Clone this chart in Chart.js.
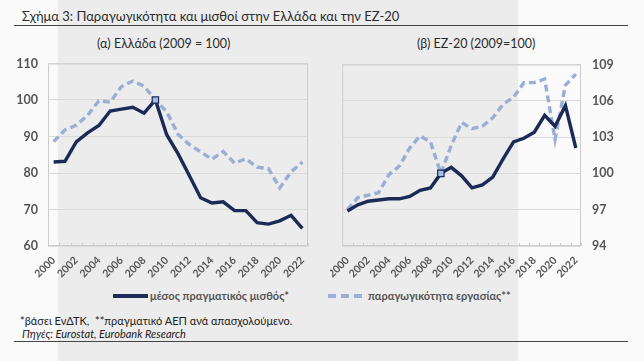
<!DOCTYPE html>
<html>
<head>
<meta charset="utf-8">
<script src="https://cdn.jsdelivr.net/npm/chart.js@4.4.1/dist/chart.umd.min.js"></script>
<style>
  html, body { margin: 0; padding: 0; }
  body { width: 644px; height: 361px; position: relative; background: #fafafa; overflow: hidden; font-family: Lato, "Open Sans", sans-serif; color: #333; }
  .band { position: absolute; left: 58px; top: 0; width: 460px; height: 361px; background: #ececec; }
  .title { position: absolute; left: 22px; top: 8px; font-size: 13px; color: #2b2b2b; }
  .rule { position: absolute; left: 14px; width: 614px; height: 0; border-top: 1px solid #444; }
  .sub { position: absolute; top: 36px; font-size: 12.5px; color: #2b2b2b; }
  canvas { position: absolute; }
  .legend { position: absolute; top: 289px; font-size: 11px; font-weight: bold; color: #555; }
  .swatch { position: absolute; top: 294px; height: 0; }
  .note { position: absolute; left: 20px; font-size: 11px; color: #222; }
</style>
</head>
<body>
<div class="band"></div>
<div class="title">Σχήμα 3: Παραγωγικότητα και μισθοί στην Ελλάδα και την ΕΖ-20</div>
<div class="rule" style="top:25px"></div>
<div class="sub" style="left:97px">(α) Ελλάδα (2009 = 100)</div>
<div class="sub" style="left:417px">(β) ΕΖ-20 (2009=100)</div>
<canvas id="chartGR" width="316" height="236" style="left:0;top:46px"></canvas>
<canvas id="chartEZ" width="314" height="236" style="left:330px;top:46px"></canvas>
<div class="swatch" style="left:113px;width:35px;border-top:4px solid #1b2a56"></div>
<div class="legend" style="left:150px">μέσος πραγματικός μισθός*</div>
<div class="swatch" style="left:328px;width:34px;border-top:4px dashed #9aaed6"></div>
<div class="legend" style="left:368px">παραγωγικότητα εργασίας**</div>
<div class="note" style="top:314px">*βάσει ΕνΔΤΚ,&nbsp; **πραγματικό ΑΕΠ ανά απασχολούμενο.</div>
<div class="note" style="top:327px;left:22px;font-style:italic">Πηγές: Eurostat, Eurobank Research</div>
<div class="rule" style="top:341px"></div>

<script>
const years = ['2000', '2001', '2002', '2003', '2004', '2005', '2006', '2007', '2008', '2009', '2010',
    '2011', '2012', '2013', '2014', '2015', '2016', '2017', '2018', '2019', '2020', '2021', '2022'];

// Ελλάδα
const grWage = [83, 83.2, 88.5, 91, 93, 97, 97.5, 98, 96.4, 100, 90.5, 85.3, 79.3, 73.2, 71.8, 72.1, 69.7, 69.7, 66.4, 66, 66.9, 68.4, 64.8];
const grProd = [88.6, 91.8, 93.1, 95.8, 99.8, 99.4, 103.7, 105.2, 103.8, 100, 96.8, 90.6, 87.8, 85.8, 83.8, 85.9, 82.7, 83.9, 81.6, 81.2, 75.9, 80.3, 83];

// ΕΖ-20
const ezWage = [96.9, 97.4, 97.7, 97.8, 97.9, 97.9, 98.1, 98.6, 98.8, 100, 100.5, 99.8, 98.8, 99.05, 99.7, 101.2, 102.6, 102.9, 103.4, 104.8, 103.9, 105.6, 102.1];
const ezProd = [97, 98, 98.2, 98.4, 99.9, 100.6, 102.1, 103.1, 102.6, 100, 102.3, 104.2, 103.7, 103.9, 104.6, 105.7, 106.3, 107.5, 107.5, 107.8, 102.8, 107.3, 108.2];

const grTicks = [60, 70, 80, 90, 100, 110];
const ezTicks = [94, 97, 100, 103, 106, 109];
const baseYear = '2009';

const NAVY = '#1b2a56';
const LIGHT = '#9aaed6';
const FONT = 'Lato, "Open Sans", sans-serif';

// πλαίσιο γύρω από την περιοχή σχεδίασης + μικρά tick μέσα
const frame = {
    id: 'frame',
    beforeDatasetsDraw(chart) {
        const { ctx, chartArea: a, scales: { x } } = chart;
        ctx.save();
        ctx.strokeStyle = '#cdcdcd';
        ctx.lineWidth = 1;
        ctx.strokeRect(a.left + 0.5, a.top + 0.5, a.width - 1, a.height - 1);
        const step = a.width / years.length;
        ctx.beginPath();
        for (let i = 0; i <= years.length; i++) {
            const px = Math.round(x.getPixelForValue(0) - step / 2 + i * step) + 0.5;
            ctx.moveTo(px, a.bottom);
            ctx.lineTo(px, a.bottom - 3);
        }
        ctx.stroke();
        ctx.restore();
    }
};

function makeChart(id, wage, prod, ticks, side, pad, axisW) {
    const base = years.indexOf(baseYear);
    return new Chart(document.getElementById(id).getContext('2d'), {
        type: 'line',
        data: {
            labels: years,
            datasets: [
                {
                    label: 'μέσος πραγματικός μισθός*',
                    data: wage,
                    borderColor: NAVY,
                    borderWidth: 3.4,
                    pointStyle: 'rect',
                    pointRadius: (c) => (c.dataIndex === base ? 4.5 : 0),
                    pointBackgroundColor: '#a4bbe6',
                    pointBorderColor: NAVY,
                    pointBorderWidth: 1.2,
                    tension: 0
                },
                {
                    label: 'παραγωγικότητα εργασίας**',
                    data: prod,
                    borderColor: LIGHT,
                    borderWidth: 3.4,
                    borderDash: [7, 4],
                    pointRadius: 0,
                    tension: 0
                }
            ]
        },
        options: {
            responsive: false,
            animation: false,
            layout: { padding: pad },
            plugins: { legend: { display: false }, tooltip: { enabled: false } },
            scales: {
                x: {
                    offset: true,
                    grid: { display: false },
                    border: { display: false },
                    ticks: {
                        autoSkip: false,
                        maxRotation: 45,
                        minRotation: 45,
                        padding: 0,
                        color: '#555',
                        font: { family: FONT, size: 10.5, weight: 'bold' },
                        callback: (v, i) => (i % 2 === 0 ? years[i] : '')
                    },
                    afterFit: (s) => { s.height = 36; }
                },
                y: {
                    position: side,
                    min: ticks[0],
                    max: ticks[ticks.length - 1],
                    afterBuildTicks: (s) => { s.ticks = ticks.map((v) => ({ value: v })); },
                    grid: { color: '#dadada', drawTicks: false },
                    border: { display: false },
                    ticks: {
                        padding: side === 'left' ? 10 : 11,
                        color: '#555',
                        font: { family: FONT, size: 12.5, weight: 'bold' }
                    },
                    afterFit: (s) => { s.width = axisW; }
                }
            }
        },
        plugins: [frame]
    });
}

makeChart('chartGR', grWage, grProd, grTicks, 'left', { top: 8, right: 8, left: 0, bottom: 0 }, 48);
makeChart('chartEZ', ezWage, ezProd, ezTicks, 'right', { top: 8, right: 0, left: 9, bottom: 0 }, 63);
</script>
</body>
</html>
